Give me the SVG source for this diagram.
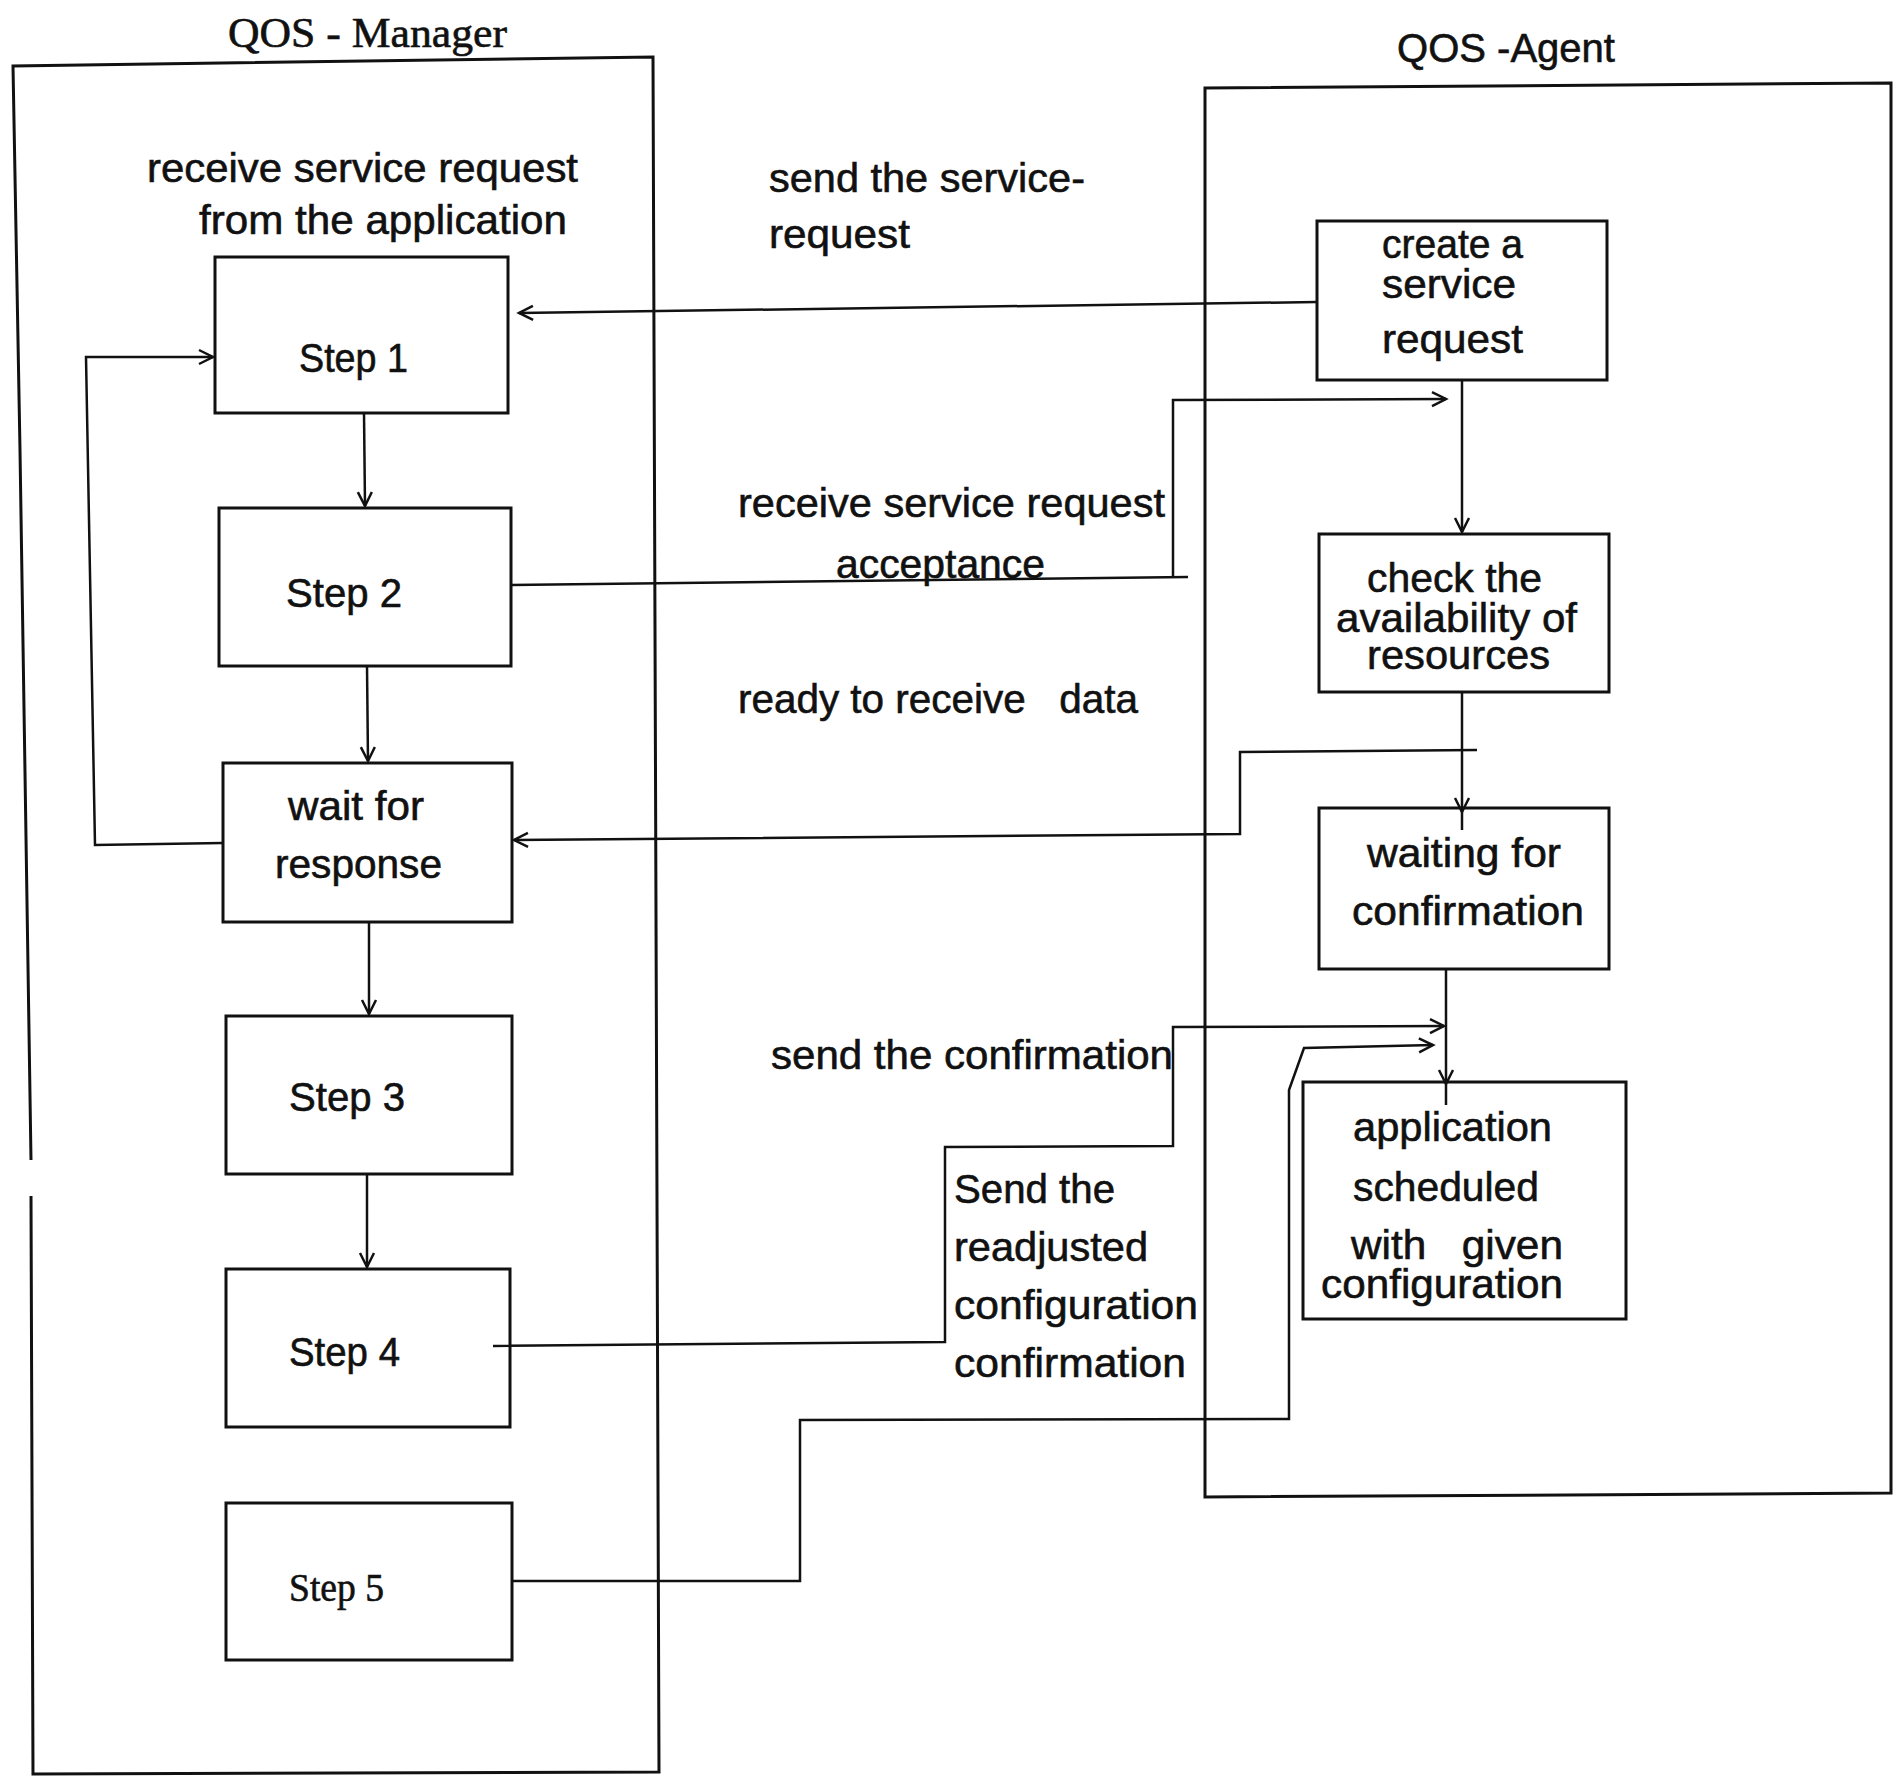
<svg xmlns="http://www.w3.org/2000/svg" width="1895" height="1776" viewBox="0 0 1895 1776">
  <style>
    .frame { fill: none; stroke: #111; stroke-width: 3; stroke-linejoin: miter; }
    .box { fill: none; stroke: #111; stroke-width: 3; }
    .wire { fill: none; stroke: #111; stroke-width: 2.5; }
    .t { font-family: "Liberation Sans", Arial, sans-serif; font-size: 41px; fill: #111; stroke: #111; stroke-width: 0.6; }
    .title { font-family: "Liberation Serif", "Times New Roman", serif; font-size: 42px; fill: #111; stroke: #111; stroke-width: 0.6; }
    .serif { font-family: "Liberation Serif", "Times New Roman", serif; font-size: 40px; fill: #111; stroke: #111; stroke-width: 0.6; }
  </style>
  <defs>
    <marker id="arrow" markerUnits="userSpaceOnUse" markerWidth="20" markerHeight="20" viewBox="0 0 20 20" refX="16" refY="10" orient="auto">
      <path d="M2,3 L16,10 L2,17" fill="none" stroke="#111" stroke-width="2.5"/>
    </marker>
  </defs>

  <rect width="1895" height="1776" fill="#fff"/>

  <!-- swimlane frames -->
  <g id="lane-manager">
    <path class="frame" d="M31,1160 L20,450 L13,66 L653,57 L659,1772 L33,1774 L31,1196"/>
    <text class="title" x="228" y="47" textLength="279" lengthAdjust="spacingAndGlyphs">QOS - Manager</text>
  </g>
  <g id="lane-agent">
    <path class="frame" d="M1205,88 L1891,83 L1891,1493 L1205,1497 Z"/>
    <text class="t" x="1397" y="62" textLength="218" lengthAdjust="spacingAndGlyphs">QOS -Agent</text>
  </g>

  <!-- manager side -->
  <g id="label-receive-app">
    <text class="t" x="147" y="182" textLength="431" lengthAdjust="spacingAndGlyphs">receive service request</text>
    <text class="t" x="199" y="234" textLength="368" lengthAdjust="spacingAndGlyphs">from the application</text>
  </g>
  <g id="step1">
    <rect class="box" x="215" y="257" width="293" height="156"/>
    <text class="t" x="299" y="372" textLength="109" lengthAdjust="spacingAndGlyphs">Step 1</text>
  </g>
  <g id="step2">
    <rect class="box" x="219" y="508" width="292" height="158"/>
    <text class="t" x="286" y="607" textLength="116" lengthAdjust="spacingAndGlyphs">Step 2</text>
  </g>
  <g id="wait-response">
    <rect class="box" x="223" y="763" width="289" height="159"/>
    <text class="t" x="288" y="820" textLength="136" lengthAdjust="spacingAndGlyphs">wait for</text>
    <text class="t" x="275" y="878" textLength="167" lengthAdjust="spacingAndGlyphs">response</text>
  </g>
  <g id="step3">
    <rect class="box" x="226" y="1016" width="286" height="158"/>
    <text class="t" x="289" y="1111" textLength="116" lengthAdjust="spacingAndGlyphs">Step 3</text>
  </g>
  <g id="step4">
    <rect class="box" x="226" y="1269" width="284" height="158"/>
    <text class="t" x="289" y="1366" textLength="111" lengthAdjust="spacingAndGlyphs">Step 4</text>
  </g>
  <g id="step5">
    <rect class="box" x="226" y="1503" width="286" height="157"/>
    <text class="serif" x="289" y="1601" textLength="95" lengthAdjust="spacingAndGlyphs">Step 5</text>
  </g>

  <!-- agent side -->
  <g id="create-request">
    <rect class="box" x="1317" y="221" width="290" height="159"/>
    <text class="t" x="1382" y="258" textLength="141" lengthAdjust="spacingAndGlyphs">create a</text>
    <text class="t" x="1382" y="298" textLength="134" lengthAdjust="spacingAndGlyphs">service</text>
    <text class="t" x="1382" y="353" textLength="141" lengthAdjust="spacingAndGlyphs">request</text>
  </g>
  <g id="check-resources">
    <rect class="box" x="1319" y="534" width="290" height="158"/>
    <text class="t" x="1367" y="592" textLength="175" lengthAdjust="spacingAndGlyphs">check the</text>
    <text class="t" x="1336" y="632" textLength="241" lengthAdjust="spacingAndGlyphs">availability of</text>
    <text class="t" x="1367" y="669" textLength="183" lengthAdjust="spacingAndGlyphs">resources</text>
  </g>
  <g id="waiting-confirmation">
    <rect class="box" x="1319" y="808" width="290" height="161"/>
    <text class="t" x="1367" y="867" textLength="194" lengthAdjust="spacingAndGlyphs">waiting for</text>
    <text class="t" x="1352" y="925" textLength="232" lengthAdjust="spacingAndGlyphs">confirmation</text>
  </g>
  <g id="app-scheduled">
    <rect class="box" x="1303" y="1082" width="323" height="237"/>
    <text class="t" x="1353" y="1141" textLength="199" lengthAdjust="spacingAndGlyphs">application</text>
    <text class="t" x="1353" y="1201" textLength="186" lengthAdjust="spacingAndGlyphs">scheduled</text>
    <text class="t" x="1351" y="1259" textLength="212" lengthAdjust="spacingAndGlyphs" xml:space="preserve">with   given</text>
    <text class="t" x="1321" y="1298" textLength="242" lengthAdjust="spacingAndGlyphs">configuration</text>
  </g>

  <!-- message labels -->
  <g id="msg-labels">
    <text class="t" x="769" y="192" textLength="316" lengthAdjust="spacingAndGlyphs">send the service-</text>
    <text class="t" x="769" y="248" textLength="141" lengthAdjust="spacingAndGlyphs">request</text>
    <text class="t" x="738" y="517" textLength="427" lengthAdjust="spacingAndGlyphs">receive service request</text>
    <text class="t" x="836" y="578" textLength="209" lengthAdjust="spacingAndGlyphs">acceptance</text>
    <text class="t" x="738" y="713" textLength="400" lengthAdjust="spacingAndGlyphs" xml:space="preserve">ready to receive   data</text>
    <text class="t" x="771" y="1069" textLength="402" lengthAdjust="spacingAndGlyphs">send the confirmation</text>
    <text class="t" x="954" y="1203" textLength="161" lengthAdjust="spacingAndGlyphs">Send the</text>
    <text class="t" x="954" y="1261" textLength="194" lengthAdjust="spacingAndGlyphs">readjusted</text>
    <text class="t" x="954" y="1319" textLength="244" lengthAdjust="spacingAndGlyphs">configuration</text>
    <text class="t" x="954" y="1377" textLength="232" lengthAdjust="spacingAndGlyphs">confirmation</text>
  </g>

  <!-- connectors -->
  <g id="connectors">
    <!-- manager flow -->
    <path class="wire" d="M364,413 L365,506" marker-end="url(#arrow)"/>
    <path class="wire" d="M367,666 L368,761" marker-end="url(#arrow)"/>
    <path class="wire" d="M369,922 L369,1014" marker-end="url(#arrow)"/>
    <path class="wire" d="M367,1174 L367,1267" marker-end="url(#arrow)"/>
    <path class="wire" d="M223,843 L95,845 L86,357 L213,357" marker-end="url(#arrow)"/>
    <!-- agent flow -->
    <path class="wire" d="M1462,380 L1462,532" marker-end="url(#arrow)"/>
    <path class="wire" d="M1462,692 L1462,812" marker-end="url(#arrow)"/>
    <path class="wire" d="M1462,812 L1462,830"/>
    <path class="wire" d="M1446,969 L1446,1084" marker-end="url(#arrow)"/>
    <path class="wire" d="M1446,1084 L1446,1105"/>
    <!-- messages between lanes -->
    <path class="wire" d="M1317,302 L519,313" marker-end="url(#arrow)"/>
    <path class="wire" d="M511,585 L1188,577"/>
    <path class="wire" d="M1173,578 L1173,400 L1446,399" marker-end="url(#arrow)"/>
    <path class="wire" d="M1477,750 L1240,752 L1240,834 L514,840" marker-end="url(#arrow)"/>
    <path class="wire" d="M493,1346 L945,1342 L945,1147 L1173,1146 L1173,1027 L1444,1026" marker-end="url(#arrow)"/>
    <path class="wire" d="M512,1581 L800,1581 L800,1420 L1289,1419 L1289,1090 L1304,1048 L1433,1045" marker-end="url(#arrow)"/>
  </g>
</svg>
